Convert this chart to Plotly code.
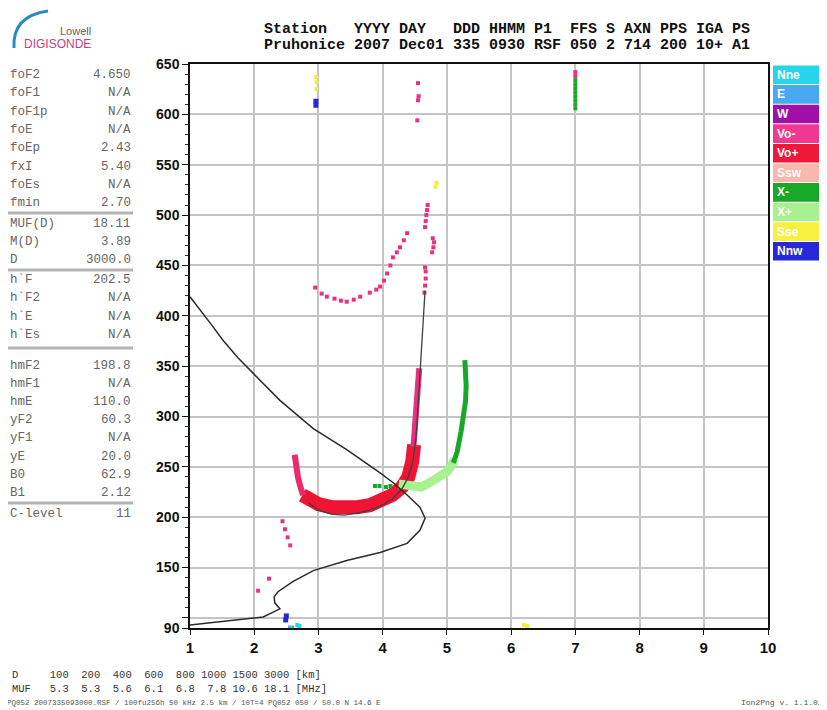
import plotly.graph_objects as go

# ---------------- data ----------------
# true-height profile (MHz, km)
profile_f = [1.00, 1.20, 1.36, 1.51, 1.75, 2.09, 2.40, 2.92, 3.44, 3.96, 4.17, 4.38, 4.58, 4.66,
             4.58, 4.38, 3.96, 3.44, 2.92, 2.60, 2.37, 2.31, 2.32, 2.40, 2.14, 1.00]
profile_h = [419, 403, 389, 376, 358, 336, 316, 288, 267, 244, 234, 222, 210, 199,
             187, 174, 165, 157, 147, 136, 126, 121, 115, 109, 101, 93]

# fitted O trace
fit_f = [2.85, 3.00, 3.20, 3.40, 3.60, 3.80, 4.00, 4.15, 4.30, 4.40, 4.47, 4.52, 4.55, 4.58, 4.61, 4.64, 4.66]
fit_h = [214, 207, 203, 202, 204, 207, 212, 218, 228, 240, 255, 280, 310, 345, 380, 410, 425]

# Vo+ main band
vop_f = [2.75, 2.85, 3.00, 3.20, 3.40, 3.60, 3.80, 4.00, 4.15, 4.30, 4.40, 4.46, 4.49]
vop_h = [222, 217, 213, 210, 209, 210, 212, 217, 222, 230, 240, 255, 272]

# Vo- arms
vom_left_f = [2.63, 2.65, 2.68, 2.72, 2.76]
vom_left_h = [262, 250, 240, 230, 222]
vom_right_f = [4.48, 4.50, 4.52, 4.55, 4.57]
vom_right_h = [270, 285, 300, 325, 348]

# Vo- scattered dots
vom_dots_f = [2.44, 2.48, 2.52, 2.56, 2.06, 2.23,
              2.95, 3.05, 3.13, 3.25, 3.35, 3.44, 3.55, 3.65, 3.80, 3.90, 3.96, 4.02, 4.07, 4.12,
              4.16, 4.22, 4.27, 4.33, 4.38,
              4.65, 4.66, 4.67, 4.67, 4.66, 4.66, 4.67, 4.68, 4.69, 4.70,
              4.77, 4.79, 4.80, 4.78,
              4.55, 4.56, 4.55, 4.54, 7.00, 7.00]
vom_dots_h = [196, 188, 180, 172, 127, 139,
              428, 422, 419, 417, 415, 414, 416, 419, 423, 426, 429, 435, 442, 450,
              458, 463, 468, 475, 482,
              423, 430, 437, 444, 448, 488, 494, 500, 505, 510,
              463, 468, 473, 477,
              614, 618, 631, 594, 638, 642]

# X- (dark green)
xm_f = [5.10, 5.16, 5.22, 5.26, 5.29, 5.30, 5.29, 5.28]
xm_h = [254, 265, 285, 300, 315, 330, 345, 356]
xm_dots_f = [3.88, 3.95, 4.05, 4.12, 7.00, 7.00, 7.00, 7.00, 7.00, 7.00, 7.00, 7.00]
xm_dots_h = [231, 231, 230, 231, 606, 610, 614, 618, 622, 626, 630, 634]

# X+ (light green)
xp_f = [4.25, 4.45, 4.60, 4.75, 4.90, 5.00, 5.08, 5.12]
xp_h = [233, 230, 230, 235, 240, 245, 252, 258]

# other small echoes
sse_f = [2.97, 2.97, 2.96, 4.82, 4.84, 6.20, 6.25]
sse_h = [625, 632, 637, 528, 532, 93, 92]
nnw_f = [2.96, 2.96, 2.49, 2.50]
nnw_h = [609, 613, 98, 102]
nne_f = [2.67, 2.70]
nne_h = [93, 92]
e_f = [2.55, 2.60]
e_h = [91, 91]

# axis ticks
y_ticks = [90, 100, 150, 200, 250, 300, 350, 400, 450, 500, 550, 600, 650]
y_tick_text = ["90", "", "150", "200", "250", "300", "350", "400", "450", "500", "550", "600", "650"]
x_ticks = [1, 2, 3, 4, 5, 6, 7, 8, 9, 10]

# legend
legend_labels = ["Nne", "E", "W", "Vo-", "Vo+", "Ssw", "X-", "X+", "Sse", "Nnw"]
legend_colors = ["#28d4ec", "#48a8f0", "#a010a8", "#f03890", "#f01838",
                 "#f8b8b0", "#18a828", "#a8f090", "#f8f040", "#2828d8"]

# scaled parameters
param_names = ["foF2", "foF1", "foF1p", "foE", "foEp", "fxI", "foEs", "fmin",
               "MUF(D)", "M(D)", "D",
               "h`F", "h`F2", "h`E", "h`Es",
               "hmF2", "hmF1", "hmE", "yF2", "yF1", "yE", "B0", "B1",
               "C-level"]
param_values = ["4.650", "N/A", "N/A", "N/A", "2.43", "5.40", "N/A", "2.70",
                "18.11", "3.89", "3000.0",
                "202.5", "N/A", "N/A", "N/A",
                "198.8", "N/A", "110.0", "60.3", "N/A", "20.0", "62.9", "2.12",
                "11"]

header_row1 = "Station   YYYY DAY   DDD HHMM P1  FFS S AXN PPS IGA PS"
header_row2 = "Pruhonice 2007 Dec01 335 0930 RSF 050 2 714 200 10+ A1"

muf_dist = ["100", "200", "400", "600", "800", "1000", "1500", "3000"]
muf_vals = ["5.3", "5.3", "5.6", "6.1", "6.8", "7.8", "10.6", "18.1"]
footer_left = "PQ052 2007335093000.RSF / 100fu256h 50 kHz 2.5 km / 10T=4 PQ052 050 / 50.0 N 14.6 E"
footer_right = "Ion2Png v. 1.1.02"

# ---------------- layout helpers ----------------
# page body has an 8px margin, so the figure is shifted by 8px
OFF = 8
W, H = 827 - OFF, 710 - OFF
L, R, T, B = 190, 768, 64, 628   # plot area in page pixels


def px(x):
    return (x - L) / (R - L)


def py(y):
    return (B - y) / (B - T)


def nb(s):
    return s.replace(" ", "\u00a0")


MONO = "Liberation Mono, DejaVu Sans Mono, monospace"
SANS = "Liberation Sans, Arial, sans-serif"

fig = go.Figure()

# echo bands
fig.add_trace(go.Scatter(x=vop_f, y=vop_h, mode="lines", line=dict(color="#ee1434", width=14), hoverinfo="skip"))
fig.add_trace(go.Scatter(x=vom_left_f, y=vom_left_h, mode="lines", line=dict(color="#ec2a6a", width=6), hoverinfo="skip"))
fig.add_trace(go.Scatter(x=vom_right_f, y=vom_right_h, mode="lines", line=dict(color="#e8307c", width=6), hoverinfo="skip"))
fig.add_trace(go.Scatter(x=xp_f, y=xp_h, mode="lines", line=dict(color="#a8f090", width=9), hoverinfo="skip"))
fig.add_trace(go.Scatter(x=xm_f, y=xm_h, mode="lines", line=dict(color="#18a828", width=5), hoverinfo="skip"))

marker_sets = [
    (vom_dots_f, vom_dots_h, "#ec3080", 4),
    (xm_dots_f, xm_dots_h, "#18a828", 4),
    (sse_f, sse_h, "#eef040", 4),
    (nnw_f, nnw_h, "#2828d8", 5),
    (nne_f, nne_h, "#28d4ec", 4),
    (e_f, e_h, "#48a8f0", 3),
]
for fx, hy, col, sz in marker_sets:
    fig.add_trace(go.Scatter(x=fx, y=hy, mode="markers",
                             marker=dict(color=col, size=sz, symbol="square", line=dict(width=0)),
                             hoverinfo="skip"))

# profile and fit lines
fig.add_trace(go.Scatter(x=fit_f, y=fit_h, mode="lines", line=dict(color="#404040", width=1.3), hoverinfo="skip"))
fig.add_trace(go.Scatter(x=profile_f, y=profile_h, mode="lines", line=dict(color="#2a2a2a", width=1.5), hoverinfo="skip"))

shapes = []
annotations = []

# legend boxes
box_top, box_h = 65, 19.6
for i, (lab, col) in enumerate(zip(legend_labels, legend_colors)):
    y0 = box_top + i * box_h
    shapes.append(dict(type="rect", xref="paper", yref="paper",
                       x0=px(773), x1=px(823), y0=py(y0 + 0.5), y1=py(y0 + box_h - 0.5),
                       fillcolor=col, line=dict(width=0)))
    annotations.append(dict(text=lab, x=px(775), y=py(y0 + box_h / 2), xref="paper", yref="paper",
                            xanchor="left", yanchor="middle", showarrow=False,
                            font=dict(family=SANS, size=12, color="white", weight="bold")))

# header
for row, yy in ((header_row1, 30), (header_row2, 45)):
    annotations.append(dict(text=nb(row), x=px(262), y=py(yy), xref="paper", yref="paper",
                            xanchor="left", yanchor="middle", showarrow=False,
                            font=dict(family=MONO, size=15, color="#111111", weight="bold")))

# logo
shapes.append(dict(type="path", xref="paper", yref="paper",
                   path=f"M {px(14)},{py(48)} Q {px(12)},{py(16)} {px(48)},{py(11)}",
                   line=dict(color="#2a8ac0", width=3)))
annotations.append(dict(text="Lowell", x=px(93), y=py(31), xref="paper", yref="paper",
                        xanchor="right", yanchor="middle", showarrow=False,
                        font=dict(family=SANS, size=11, color="#606060")))
annotations.append(dict(text="DIGISONDE", x=px(93), y=py(44), xref="paper", yref="paper",
                        xanchor="right", yanchor="middle", showarrow=False,
                        font=dict(family=SANS, size=12, color="#c84080")))

# left parameter panel
row_y = [75, 93, 112, 130, 148, 167, 185, 203,
         224, 242, 260,
         280, 298, 317, 335,
         366, 384, 402, 420, 438, 457, 475, 493,
         514]
for name, val, yy in zip(param_names, param_values, row_y):
    annotations.append(dict(text=nb(name), x=px(8), y=py(yy), xref="paper", yref="paper",
                            xanchor="left", yanchor="middle", showarrow=False,
                            font=dict(family=MONO, size=12.5, color="#666666")))
    annotations.append(dict(text=nb(val), x=px(133), y=py(yy), xref="paper", yref="paper",
                            xanchor="right", yanchor="middle", showarrow=False,
                            font=dict(family=MONO, size=12.5, color="#666666")))
for sy in (213, 270, 348, 503):
    shapes.append(dict(type="line", xref="paper", yref="paper",
                       x0=px(7), x1=px(133), y0=py(sy), y1=py(sy),
                       line=dict(color="#b4b4b4", width=3)))

# bottom MUF table
d_line = "D    " + " ".join(v.rjust(4) for v in muf_dist) + " [km]"
m_line = "MUF  " + " ".join(v.rjust(4) for v in muf_vals) + " [MHz]"
for txt, yy in ((d_line, 675), (m_line, 689)):
    annotations.append(dict(text=nb(txt), x=px(10), y=py(yy), xref="paper", yref="paper",
                            xanchor="left", yanchor="middle", showarrow=False,
                            font=dict(family=MONO, size=10.5, color="#333333")))
annotations.append(dict(text=nb(footer_left), x=px(5), y=py(703), xref="paper", yref="paper",
                        xanchor="left", yanchor="middle", showarrow=False,
                        font=dict(family=MONO, size=7.5, color="#555555")))
annotations.append(dict(text=nb(footer_right), x=px(825), y=py(703), xref="paper", yref="paper",
                        xanchor="right", yanchor="middle", showarrow=False,
                        font=dict(family=MONO, size=8, color="#555555")))

fig.update_layout(
    width=W, height=H,
    margin=dict(l=L - OFF, r=827 - R, t=T - OFF, b=710 - B, pad=0),
    paper_bgcolor="white", plot_bgcolor="white",
    showlegend=False,
    shapes=shapes, annotations=annotations,
    xaxis=dict(range=[1, 10], tickvals=x_ticks, showgrid=True, gridcolor="#c4c4c4", gridwidth=1.5,
               zeroline=False, showline=True, linecolor="#111111", linewidth=1.5, mirror=True,
               ticks="outside", ticklen=5, tickwidth=1.2, tickcolor="#111111",
               tickfont=dict(family=SANS, size=15, color="#111111", weight="bold")),
    yaxis=dict(range=[90, 650], tickvals=y_ticks, ticktext=y_tick_text, showgrid=True,
               gridcolor="#c4c4c4", gridwidth=1.5,
               zeroline=False, showline=True, linecolor="#111111", linewidth=1.5, mirror=True,
               ticks="outside", ticklen=6, tickwidth=1.2, tickcolor="#111111",
               minor=dict(dtick=10, tick0=0, ticks="outside", ticklen=3, tickcolor="#333333", showgrid=False),
               tickfont=dict(family=SANS, size=14, color="#111111", weight="bold")),
)

fig.write_html("out.html")
